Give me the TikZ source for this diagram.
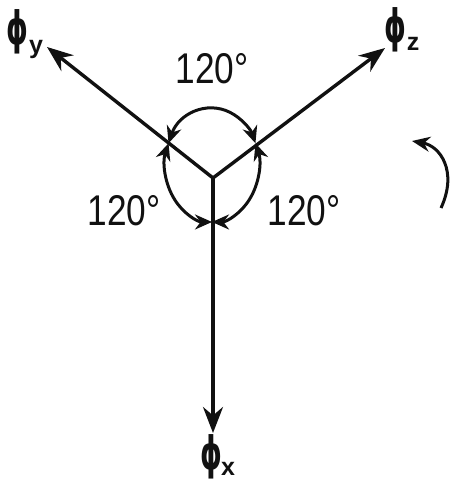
\documentclass[tikz,border=0pt]{standalone}
\usepackage{fontspec}
\setmainfont{Liberation Sans}
\newfontfamily\phifont{DejaVu Sans}
\usetikzlibrary{arrows.meta,calc}
\definecolor{PhasorLine}{HTML}{111111}

\begin{document}
\begin{tikzpicture}[x=1pt,y=1pt,
    arm/.style={PhasorLine,line width=3.4pt,-{Stealth[length=26pt,width=20pt]}},
    sweep/.style={PhasorLine,line width=3pt,{Stealth[length=17pt,width=15pt]}-{Stealth[length=17pt,width=15pt]}},
    anglab/.style={text=PhasorLine,font=\fontsize{43}{43}\selectfont,xscale=0.82,inner sep=0pt},
    philab/.style={text=PhasorLine,font=\phifont\bfseries\fontsize{46}{46}\selectfont,xscale=0.6,inner sep=0pt},
    sublab/.style={text=PhasorLine,font=\bfseries\fontsize{25}{25}\selectfont,inner sep=0pt}]
      \useasboundingbox (0,0) rectangle (457,481);
      \coordinate (O) at (213,303);
      \coordinate (Ty) at (47,434);
      \coordinate (Tz) at (385,433);
      \coordinate (Tx) at (213,48);
      \draw[arm] (O) -- (Ty);
      \draw[arm] (O) -- (Tz);
      \draw[arm] (O) -- (Tx);
      % angle arcs
      \coordinate (C) at (212,316);
      \draw[sweep] ($(C)+(157.6:47 and 57)$) arc[start angle=157.6,end angle=22.4,x radius=47,y radius=57];
      \draw[sweep] ($(C)+(157.6:47 and 57)$) arc[start angle=157.6,end angle=270,x radius=47,y radius=57];
      \draw[sweep] ($(C)+(22.4:47 and 57)$) arc[start angle=22.4,end angle=-90,x radius=47,y radius=57];
      \node[anglab] (atop) at (212,412) {120°};
      \node[anglab] (aleft) at (124,270) {120°};
      \node[anglab] (aright) at (304,270) {120°};
      % phasor names
      \node[philab] (phiy) at (17,449) {ϕ};
      \node[sublab] (suby) at (36,432) {y};
      \node[philab] (phiz) at (395,451) {ϕ};
      \node[sublab] (subz) at (413,437) {z};
      \node[philab] (phix) at (211,24) {ϕ};
      \node[sublab] (subx) at (228,12) {x};
      % rotation
      \coordinate (R1) at (441,273);
      \coordinate (R2) at (412,340);
      \draw[PhasorLine,line width=3pt,-{Stealth[length=18pt,width=15pt]}] (R1) .. controls (458,310) and (440,335) .. (R2);
\end{tikzpicture}
\end{document}
